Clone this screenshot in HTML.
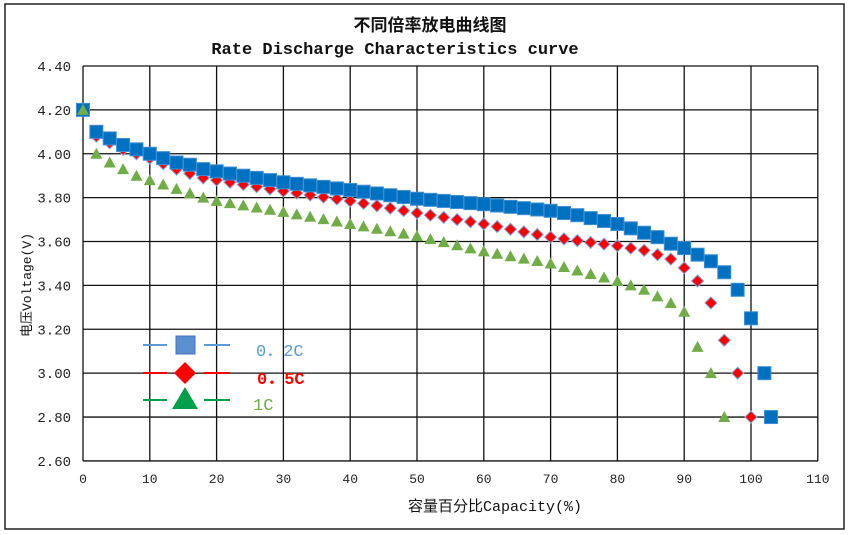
<!DOCTYPE html>
<html><head><meta charset="utf-8"><style>
body{margin:0;background:#fff;}
svg{display:block;font-family:"Liberation Mono","Noto Sans CJK SC",monospace;}
</style></head><body>
<svg id="s" width="850" height="535" viewBox="0 0 850 535" xmlns="http://www.w3.org/2000/svg">
<rect x="0" y="0" width="850" height="535" fill="#fff"/>
<rect x="5" y="4" width="839" height="525" fill="none" stroke="#222" stroke-width="1.5"/>
<text x="430" y="31" text-anchor="middle" font-family="Noto Sans CJK SC, sans-serif" font-size="17" font-weight="bold" fill="#111">不同倍率放电曲线图</text>
<text x="395" y="54" text-anchor="middle" font-size="17" font-weight="bold" fill="#111">Rate Discharge Characteristics curve</text>
<g id="grid" stroke="#111" stroke-width="1.3"></g>
<g id="ticks" font-size="14" fill="#222"></g>
<g id="pts"></g>
<text transform="translate(31,285) rotate(-90)" text-anchor="middle" font-size="13" fill="#111"><tspan font-family="Noto Sans CJK SC, sans-serif">电压</tspan>Voltage(V)</text>
<text x="495" y="511" text-anchor="middle" font-size="15" fill="#111"><tspan font-family="Noto Sans CJK SC, sans-serif">容量百分比</tspan>Capacity(%)</text>
<g>
<line x1="143" y1="345" x2="167" y2="345" stroke="#5b9bd5" stroke-width="2"/>
<line x1="204" y1="345" x2="230" y2="345" stroke="#5b9bd5" stroke-width="2"/>
<rect x="176" y="336" width="19" height="18" fill="#5b8fd0" stroke="#4472c4"/>
<line x1="143" y1="373" x2="167" y2="373" stroke="#f00" stroke-width="2"/>
<line x1="204" y1="373" x2="230" y2="373" stroke="#f00" stroke-width="2"/>
<polygon points="185,362 196,373 185,384 174,373" fill="#f00"/>
<line x1="143" y1="400" x2="167" y2="400" stroke="#00a04a" stroke-width="2"/>
<line x1="204" y1="400" x2="230" y2="400" stroke="#00a04a" stroke-width="2"/>
<polygon points="185,387 198,409 172,409" fill="#00a04a"/>
<text x="256" y="356" font-size="17" fill="#5b9bd5">0．2C</text>
<text x="257" y="384" font-size="17" fill="#f00" font-weight="bold">0．5C</text>
<text x="253" y="410" font-size="17" fill="#70ad47">1C</text>
</g>
</svg>
<script>
var NS="http://www.w3.org/2000/svg";
function X(v){return 83+v*6.68;} function Y(v){return 66+(4.4-v)*219.4;}
function el(p,t,a,txt){var e=document.createElementNS(NS,t);for(var k in a)e.setAttribute(k,a[k]);if(txt)e.textContent=txt;document.getElementById(p).appendChild(e);return e;}
for(var i=0;i<=11;i++){var x=X(i*10);el("grid","line",{x1:x,y1:66,x2:x,y2:461});el("ticks","text",{x:x,y:483,"text-anchor":"middle","font-size":13},String(i*10));}
for(var j=0;j<=9;j++){var v=2.6+j*0.2,y=Y(v);el("grid","line",{x1:83,y1:y,x2:818,y2:y});el("ticks","text",{x:71,y:y+5,"text-anchor":"end"},v.toFixed(2));}
function interp(tab,x){for(var i=0;i<tab.length-1;i++){if(x>=tab[i][0]&&x<=tab[i+1][0]){var t=(x-tab[i][0])/(tab[i+1][0]-tab[i][0]);return tab[i][1]+t*(tab[i+1][1]-tab[i][1]);}}return tab[tab.length-1][1];}
var g=[[0,4.2],[2,4.0],[4,3.96],[6,3.93],[8,3.9],[10,3.88],[12,3.86],[14,3.84],[16,3.82],[18,3.8],[20,3.785],[30,3.735],[40,3.68],[50,3.625],[60,3.555],[70,3.5],[80,3.42],[84,3.38],[86,3.35],[88,3.32],[90,3.28],[92,3.12],[94,3.0],[96,2.8]];
var r=[[0,4.2],[2,4.08],[4,4.05],[6,4.02],[8,4.0],[10,3.98],[12,3.955],[14,3.93],[16,3.91],[18,3.89],[20,3.88],[30,3.83],[40,3.785],[50,3.73],[60,3.68],[70,3.62],[80,3.58],[84,3.56],[86,3.54],[88,3.52],[90,3.48],[92,3.42],[94,3.32],[96,3.15],[98,3.0],[100,2.8]];
var b=[[0,4.2],[2,4.1],[4,4.07],[6,4.04],[8,4.02],[10,4.0],[12,3.98],[14,3.96],[16,3.95],[18,3.93],[20,3.92],[30,3.87],[40,3.835],[50,3.795],[60,3.77],[70,3.74],[74,3.72],[80,3.68],[84,3.64],[86,3.62],[88,3.59],[90,3.57],[92,3.54],[94,3.51],[96,3.46],[98,3.38],[100,3.25],[102,3.0],[103,2.8]];
function xs(tab){var a=[];for(var x=0;x<=tab[tab.length-2][0];x+=2)a.push(x);a.push(tab[tab.length-1][0]);return a;}
xs(g).forEach(function(x){var cx=X(x),cy=Y(interp(g,x));el("pts","polygon",{points:(cx)+","+(cy-6)+" "+(cx+6)+","+(cy+5)+" "+(cx-6)+","+(cy+5),fill:"#70ad47"});});
xs(r).forEach(function(x){var cx=X(x),cy=Y(interp(r,x));el("pts","polygon",{points:cx+","+(cy-6)+" "+(cx+6)+","+cy+" "+cx+","+(cy+6)+" "+(cx-6)+","+cy,fill:"#f00",stroke:"#7fa8e0","stroke-width":1});});
xs(b).forEach(function(x){var cx=X(x),cy=Y(interp(b,x));el("pts","rect",{x:cx-6.5,y:cy-6.5,width:13,height:13,fill:"#0070c0",stroke:"#3d8fd6","stroke-width":1});});
el("pts","polygon",{points:X(0)+","+(Y(4.2)-6)+" "+(X(0)+6)+","+(Y(4.2)+5)+" "+(X(0)-6)+","+(Y(4.2)+5),fill:"#70ad47"});
</script>
</body></html>
